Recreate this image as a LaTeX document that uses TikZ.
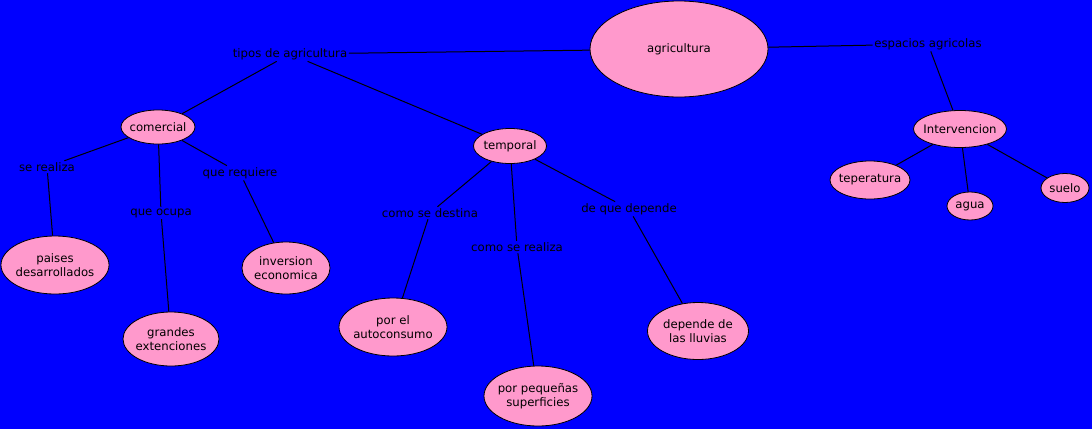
\documentclass[tikz,border=0pt]{standalone}
\usepackage{fontspec}
\setmainfont{DejaVu Sans}
\usetikzlibrary{shapes.geometric}
\definecolor{bgblue}{RGB}{0,0,255}
\definecolor{pinkfill}{RGB}{255,153,204}
\begin{document}
\begin{tikzpicture}[x=1pt,y=-1pt,
  every node/.style={font=\fontsize{11.7}{14}\selectfont, text=black},
  concept/.style n args={3}{ellipse, draw=black, line width=0.8pt, fill=pinkfill, inner sep=0pt,
     minimum width=#1, minimum height=#2, label={[align=center, inner sep=0pt]center:{#3}}},
  linklabel/.style={inner sep=1.5pt, align=center},
  conn/.style={draw=black, line width=1pt}]
\fill[bgblue] (0,0) rectangle (1092,429);
\useasboundingbox (0,0) rectangle (1092,429);
% concepts
\node[concept={178pt}{96pt}{agricultura}] (agri) at (679,49) {};
\node[concept={74pt}{34pt}{comercial}] (com) at (158,127) {};
\node[concept={73pt}{35pt}{temporal}] (tem) at (510,146) {};
\node[concept={93pt}{37pt}{Intervencion}] (int) at (960,129) {};
\node[concept={80pt}{38pt}{teperatura}] (tep) at (870,180) {};
\node[concept={46pt}{28pt}{agua}] (agua) at (970,206) {};
\node[concept={48pt}{29pt}{suelo}] (suelo) at (1065,188) {};
\node[concept={108pt}{58pt}{paises\\desarrollados}] (pai) at (55,265) {};
\node[concept={96pt}{54pt}{grandes\\extenciones}] (gra) at (171,339) {};
\node[concept={88pt}{52pt}{inversion\\economica}] (inv) at (286,268) {};
\node[concept={108pt}{58pt}{por el\\autoconsumo}] (aut) at (393,327) {};
\node[concept={108pt}{60pt}{por pequeñas\\superficies}] (peq) at (538,396) {};
\node[concept={101pt}{57pt}{depende de\\las lluvias}] (llu) at (698,331) {};
% link labels
\node[linklabel] (tipos) at (290,54) {tipos de agricultura};
\node[linklabel] (esp) at (928,44) {espacios agricolas};
\node[linklabel] (ser) at (47,167) {se realiza};
\node[linklabel] (req) at (240,173) {que requiere};
\node[linklabel] (ocu) at (161,213) {que ocupa};
\node[linklabel] (des) at (430,213) {como se destina};
\node[linklabel] (rea) at (517,247) {como se realiza};
\node[linklabel] (dep) at (629,209) {de que depende};
% connectors
\draw[conn] (tipos) -- (agri);
\draw[conn] (tipos) -- (com);
\draw[conn] (tipos) -- (tem);
\draw[conn] (agri) -- (esp);
\draw[conn] (esp) -- (int);
\draw[conn] (int) -- (tep);
\draw[conn] (int) -- (agua);
\draw[conn] (int) -- (suelo);
\draw[conn] (com) -- (ser);
\draw[conn] (ser) -- (pai);
\draw[conn] (com) -- (ocu);
\draw[conn] (ocu) -- (gra);
\draw[conn] (com) -- (req);
\draw[conn] (req) -- (inv);
\draw[conn] (tem) -- (des);
\draw[conn] (des) -- (aut);
\draw[conn] (tem) -- (rea);
\draw[conn] (rea) -- (peq);
\draw[conn] (tem) -- (dep);
\draw[conn] (dep) -- (llu);
\end{tikzpicture}
\end{document}
